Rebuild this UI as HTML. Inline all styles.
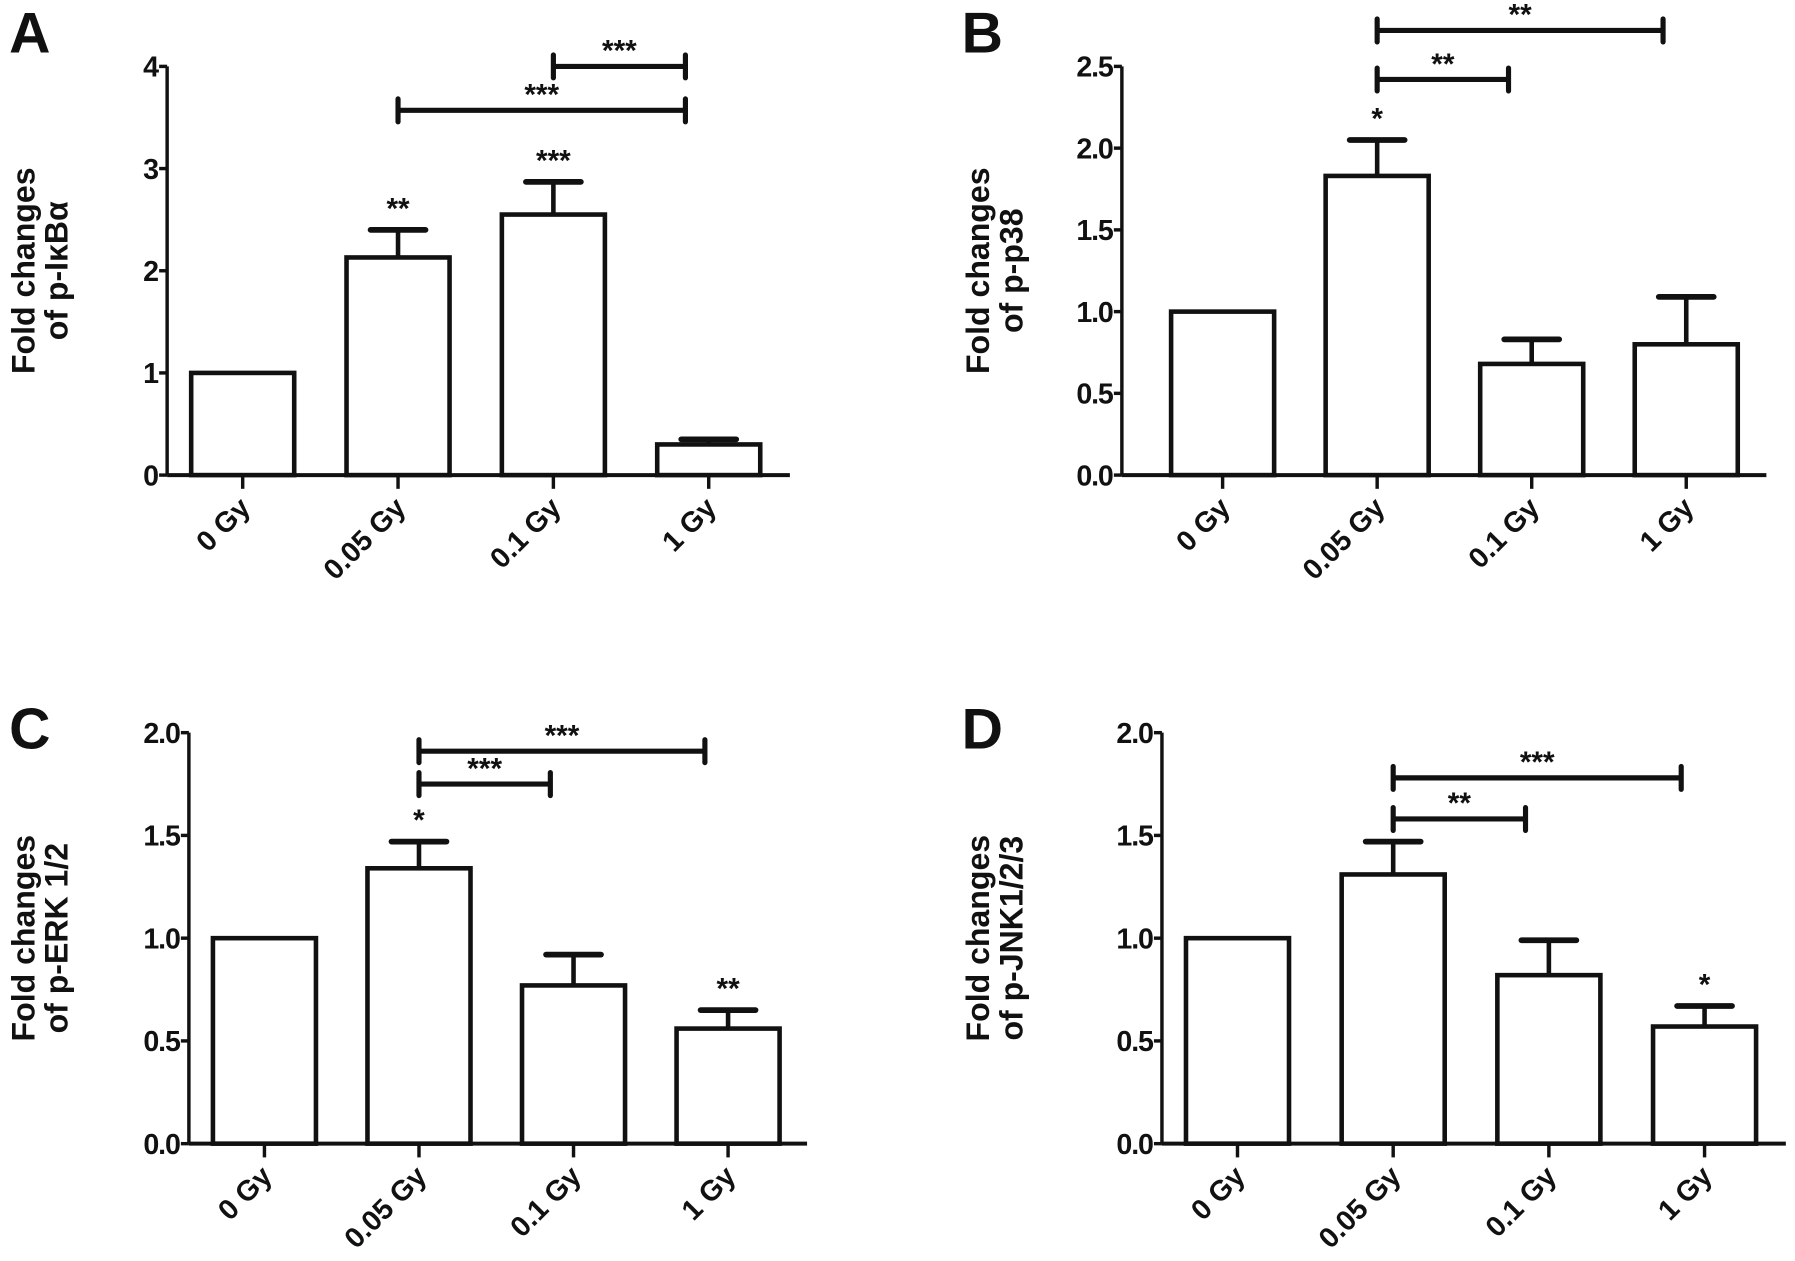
<!DOCTYPE html>
<html><head><meta charset="utf-8"><style>
html,body{margin:0;padding:0;background:#fff}
svg{display:block}
text{font-family:"Liberation Sans",Arial,sans-serif;font-weight:bold;fill:#111}
</style></head><body>
<svg id="fig" width="1795" height="1261" viewBox="0 0 1568 1101.5" preserveAspectRatio="none" xmlns="http://www.w3.org/2000/svg"></svg>
<script>
const categories = ["0 Gy","0.05 Gy","0.1 Gy","1 Gy"];
// Panel A
const valuesA = [1.0, 2.13, 2.55, 0.30];
const errorsA = [1.0, 2.40, 2.87, 0.35];
const starsA = ["", "**", "***", ""];
const ticksA = [0,1,2,3,4];
const tickLabelsA = ["0","1","2","3","4"];
const bracketsA = [[1,3,3.57,"***"],[2,3,4.0,"***"]];
// Panel B
const valuesB = [1.0, 1.83, 0.68, 0.80];
const errorsB = [1.0, 2.05, 0.83, 1.09];
const starsB = ["", "*", "", ""];
const ticksB = [0,0.5,1.0,1.5,2.0,2.5];
const tickLabelsB = ["0.0","0.5","1.0","1.5","2.0","2.5"];
const bracketsB = [[1,2,2.42,"**"],[1,3,2.72,"**"]];
// Panel C
const valuesC = [1.0, 1.34, 0.77, 0.56];
const errorsC = [1.0, 1.47, 0.92, 0.65];
const starsC = ["", "*", "", "**"];
const ticksC = [0,0.5,1.0,1.5,2.0];
const tickLabelsC = ["0.0","0.5","1.0","1.5","2.0"];
const bracketsC = [[1,2,1.75,"***"],[1,3,1.91,"***"]];
// Panel D
const valuesD = [1.0, 1.31, 0.82, 0.57];
const errorsD = [1.0, 1.47, 0.99, 0.67];
const starsD = ["", "", "", "*"];
const ticksD = [0,0.5,1.0,1.5,2.0];
const tickLabelsD = ["0.0","0.5","1.0","1.5","2.0"];
const bracketsD = [[1,2,1.58,"**"],[1,3,1.78,"***"]];

const NS="http://www.w3.org/2000/svg";
const svg=document.getElementById('fig');
function mk(tag,attrs,parent){const e=document.createElementNS(NS,tag);for(const k in attrs)e.setAttribute(k,attrs[k]);(parent||svg).appendChild(e);return e;}

function panel(cfg){
  const g=mk('g',{});
  
  
  const ymax=cfg.ticks[cfg.ticks.length-1];
  const y=v=>cfg.y0-(v/ymax)*(cfg.y0-cfg.yTop);
  const x=i=>cfg.c0+i*cfg.step;
  const lw=4;
  const L=mk('text',{x:cfg.lx,y:cfg.ly,'font-size':50},g);L.textContent=cfg.id;
  
  
  const tt=mk('text',{transform:`translate(${cfg.tx},${(cfg.y0+cfg.yTop)/2}) rotate(-90)`,'text-anchor':'middle','font-size':28},g);
  
  
  const t1=mk('tspan',{x:0,dy:0},tt);t1.textContent="Fold changes";
  const t2=mk('tspan',{x:0,dy:29},tt);t2.textContent=cfg.title;
  const ya=mk('line',{x1:cfg.ax,y1:cfg.yTop,x2:cfg.ax,y2:cfg.y0,stroke:'#111','stroke-width':3},g);
  
  
  const xa=mk('line',{x1:cfg.ax,y1:cfg.y0,x2:cfg.xEnd,y2:cfg.y0,stroke:'#111','stroke-width':3.5},g);
  
  
  cfg.ticks.forEach((t,i)=>{
    const tl=mk('line',{x1:cfg.ax-7,y1:y(t),x2:cfg.ax,y2:y(t),stroke:'#111','stroke-width':3},g);
    
    
    const tx=mk('text',{x:cfg.ax-8,y:y(t)+9,'text-anchor':'end','font-size':25,'letter-spacing':-1},g);
    tx.textContent=cfg.tickLabels[i];
    
    
  });
  categories.forEach((c,i)=>{
    const cx=x(i);
    const tk=mk('line',{x1:cx,y1:cfg.y0,x2:cx,y2:cfg.y0+12,stroke:'#111','stroke-width':3},g);
    
    
    const lab=mk('text',{transform:`translate(${cx+8},${cfg.y0+30}) rotate(-45)`,'text-anchor':'end','font-size':25},g);
    lab.textContent=c;
    
    
    const v=cfg.values[i],e=cfg.errors[i];
    if(e>v){
      const el=mk('line',{x1:cx,y1:y(v),x2:cx,y2:y(e),stroke:'#111','stroke-width':lw},g);
      
      
      const ec=mk('line',{x1:cx-24,y1:y(e),x2:cx+24,y2:y(e),stroke:'#111','stroke-width':5,'stroke-linecap':'round'},g);
      
      
    }
    const b=mk('rect',{x:cx-cfg.hw,y:y(v),width:cfg.hw*2,height:cfg.y0-y(v),fill:'#fff',stroke:'#111','stroke-width':lw},g);
    
    
    if(cfg.stars[i]){
      const s=mk('text',{x:cx,y:y(Math.max(e,v))-10,'text-anchor':'middle','font-size':26},g);
      s.textContent=cfg.stars[i];
      
      
    }
  });
  cfg.brackets.forEach(br=>{
    const x1=x(br[0]),x2=x(br[1])-0.15*cfg.step,yy=y(br[2]);
    const bg=mk('g',{},g);
    
    
    mk('line',{x1:x1,y1:yy,x2:x2,y2:yy,stroke:'#111','stroke-width':4.5},bg);
    mk('line',{x1:x1,y1:yy-10,x2:x1,y2:yy+10,stroke:'#111','stroke-width':4.5,'stroke-linecap':'round'},bg);
    mk('line',{x1:x2,y1:yy-10,x2:x2,y2:yy+10,stroke:'#111','stroke-width':4.5,'stroke-linecap':'round'},bg);
    const s=mk('text',{x:(x1+x2)/2,y:yy-5,'text-anchor':'middle','font-size':26},bg);
    s.textContent=br[3];
  });
}

panel({id:'A',lx:8,ly:46,tx:30,ax:146,y0:415,yTop:58,xEnd:690,c0:212,step:135.7,hw:45,title:"of p-I\u03BAB\u03B1",values:valuesA,errors:errorsA,stars:starsA,ticks:ticksA,tickLabels:tickLabelsA,brackets:bracketsA});
panel({id:'B',lx:840,ly:46,tx:864,ax:980,y0:415,yTop:58,xEnd:1543,c0:1068,step:135,hw:45,title:"of p-p38",values:valuesB,errors:errorsB,stars:starsB,ticks:ticksB,tickLabels:tickLabelsB,brackets:bracketsB});
panel({id:'C',lx:8,ly:654,tx:30,ax:165,y0:999,yTop:640,xEnd:705,c0:231,step:135,hw:45,title:"of p-ERK 1/2",values:valuesC,errors:errorsC,stars:starsC,ticks:ticksC,tickLabels:tickLabelsC,brackets:bracketsC});
panel({id:'D',lx:840,ly:654,tx:864,ax:1015,y0:999,yTop:640,xEnd:1560,c0:1081,step:136,hw:45,title:"of p-JNK1/2/3",values:valuesD,errors:errorsD,stars:starsD,ticks:ticksD,tickLabels:tickLabelsD,brackets:bracketsD});
</script>
</body></html>
